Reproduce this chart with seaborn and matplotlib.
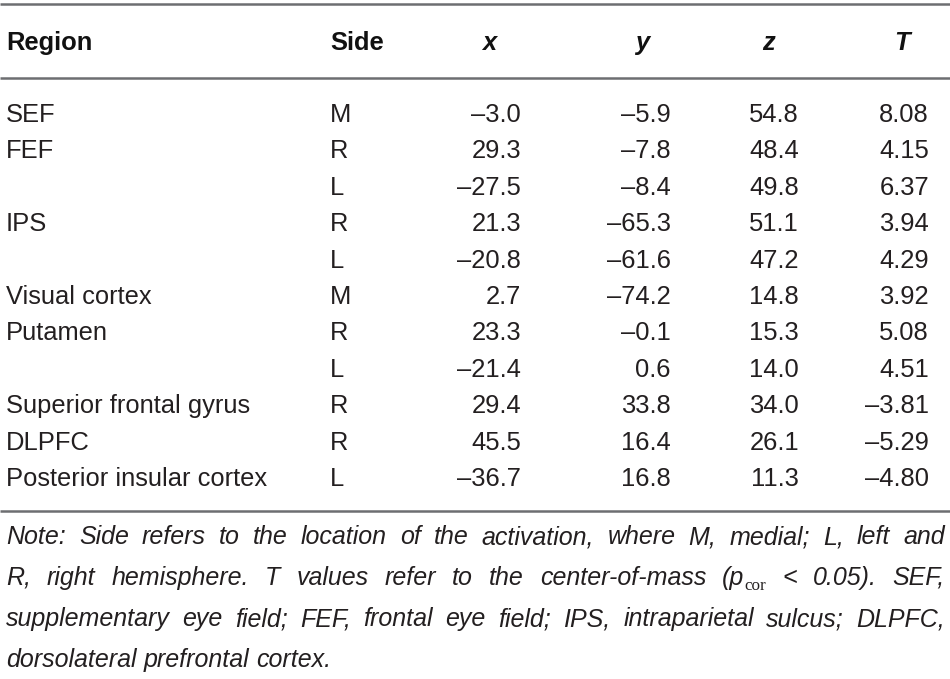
import matplotlib
matplotlib.use("Agg")
import matplotlib.pyplot as plt
from matplotlib import font_manager
import seaborn as sns

# table content
headers = ["Region", "Side", "x", "y", "z", "T"]
regions = ["SEF", "FEF", "", "IPS", "", "Visual cortex", "Putamen", "",
           "Superior frontal gyrus", "DLPFC", "Posterior insular cortex"]
sides = ["M", "R", "L", "R", "L", "M", "R", "L", "R", "R", "L"]
x_vals = [-3.0, 29.3, -27.5, 21.3, -20.8, 2.7, 23.3, -21.4, 29.4, 45.5, -36.7]
y_vals = [-5.9, -7.8, -8.4, -65.3, -61.6, -74.2, -0.1, 0.6, 33.8, 16.4, 16.8]
z_vals = [54.8, 48.4, 49.8, 51.1, 47.2, 14.8, 15.3, 14.0, 34.0, 26.1, 11.3]
t_vals = [8.08, 4.15, 6.37, 3.94, 4.29, 3.92, 5.08, 4.51, -3.81, -5.29, -4.80]

note_lines = [
    "Note: Side refers to the location of the activation, where M, medial; L, left and",
    "R, right hemisphere. T values refer to the center-of-mass (p_cor < 0.05). SEF,",
    "supplementary eye field; FEF, frontal eye field; IPS, intraparietal sulcus; DLPFC,",
    "dorsolateral prefrontal cortex.",
]

sns.set_theme(style="white")
installed = {f.name for f in font_manager.fontManager.ttflist}
body_font = "Liberation Sans" if "Liberation Sans" in installed else "DejaVu Sans"
note_font = "Liberation Sans Narrow" if "Liberation Sans Narrow" in installed else body_font
plt.rcParams["font.family"] = [body_font, "DejaVu Sans"]

W, H = 950, 679
fig = plt.figure(figsize=(W / 100, H / 100), dpi=100)
ax = fig.add_axes([0, 0, 1, 1])
ax.set_xlim(0, W)
ax.set_ylim(H, 0)
ax.axis("off")
renderer = fig.canvas.get_renderer()

txt_color = "#231f20"
rule_color = "#6d6e71"
fs = 18.4


def fmt(v, nd):
    return f"{v:.{nd}f}".replace("-", "\u2013")


# rules
for yy in [4, 78, 511]:
    ax.plot([0, W], [yy, yy], color=rule_color, lw=1.8, solid_capstyle="butt")

# header row
hdr_base = 50
ax.text(6, hdr_base, headers[0], fontsize=fs, fontweight="bold", color="#111111", va="baseline")
ax.text(330, hdr_base, headers[1], fontsize=fs, fontweight="bold", color="#111111", va="baseline")
for name, cx in zip(headers[2:], [489, 642, 768, 902]):
    ax.text(cx, hdr_base, name, fontsize=fs, fontweight="bold", fontstyle="italic",
            color="#111111", va="baseline", ha="center")

# body rows
row0, step = 122, 36.4
for i in range(len(regions)):
    yb = row0 + step * i
    ax.text(6, yb, regions[i], fontsize=fs, color=txt_color, va="baseline")
    ax.text(330, yb, sides[i], fontsize=fs, color=txt_color, va="baseline")
    for col, rx, nd in [(x_vals, 521, 1), (y_vals, 671, 1), (z_vals, 799, 1), (t_vals, 929, 2)]:
        ax.text(rx, yb, fmt(col[i], nd), fontsize=fs, color=txt_color, va="baseline", ha="right")

# note, justified by hand
note_fs = 18.0
left, right = 6, 945


def word_parts(word):
    if "_cor" in word:
        a, b = word.split("_cor")
        return [(a, "main"), ("cor", "sub"), (b, "main")]
    return [(word, "main")]


def draw_part(x, y, s, kind):
    if not s:
        return 0.0
    if kind == "sub":
        t = ax.text(x, y + 5, s, fontsize=note_fs * 0.68, family="Liberation Serif",
                    color=txt_color, va="baseline")
    else:
        t = ax.text(x, y, s, fontsize=note_fs, family=[note_font, "DejaVu Sans"],
                    fontstyle="italic", color=txt_color, va="baseline")
    return t.get_window_extent(renderer).width


# measure words first
measured = []
for line in note_lines:
    ws = []
    for w in line.split(" "):
        total = 0.0
        for s, kind in word_parts(w):
            if not s:
                continue
            if kind == "sub":
                t = ax.text(0, 0, s, fontsize=note_fs * 0.68, family="Liberation Serif")
            else:
                t = ax.text(0, 0, s, fontsize=note_fs, family=[note_font, "DejaVu Sans"],
                            fontstyle="italic")
            total += t.get_window_extent(renderer).width
            t.remove()
        ws.append((w, total))
    measured.append(ws)

space = ax.text(0, 0, "a a", fontsize=note_fs, family=[note_font, "DejaVu Sans"], fontstyle="italic")
aa = ax.text(0, 0, "aa", fontsize=note_fs, family=[note_font, "DejaVu Sans"], fontstyle="italic")
space_w = space.get_window_extent(renderer).width - aa.get_window_extent(renderer).width
space.remove()
aa.remove()

note_base, note_step = 544, 41
for li, ws in enumerate(measured):
    yb = note_base + note_step * li
    last = li == len(measured) - 1
    if last:
        gap = space_w
    else:
        gap = (right - left - sum(w for _, w in ws)) / (len(ws) - 1)
    x = left
    for w, width in ws:
        xx = x
        for s, kind in word_parts(w):
            xx += draw_part(xx, yb, s, kind)
        x += width + gap

fig.savefig("out.png", dpi=100)
